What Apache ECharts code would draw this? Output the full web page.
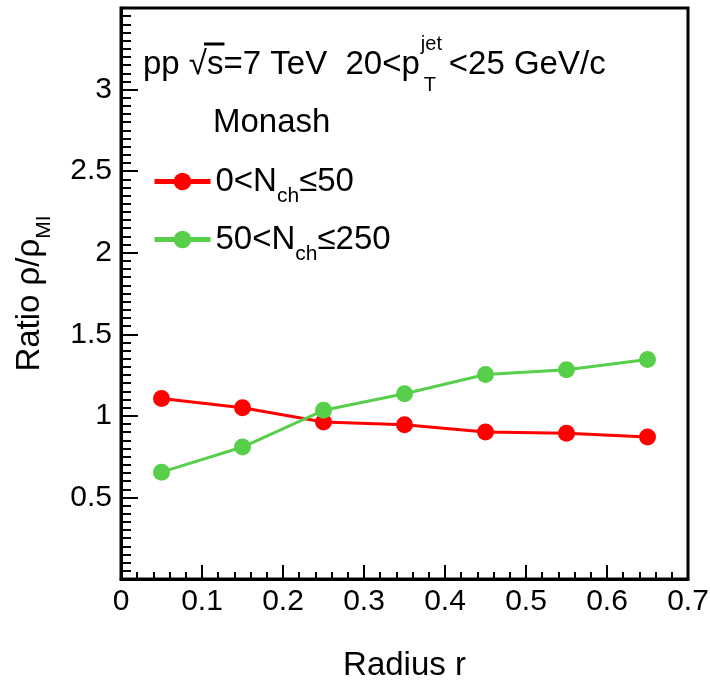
<!DOCTYPE html>
<html>
<head>
<meta charset="utf-8">
<script src="https://cdn.jsdelivr.net/npm/echarts@6/dist/echarts.min.js"></script>
<style>
  html, body { margin: 0; padding: 0; background: #fff; }
  #chart { width: 710px; height: 681px; }
</style>
</head>
<body>
<div id="chart"></div>
<script>
// 数据
const radius = [0.05, 0.15, 0.25, 0.35, 0.45, 0.55, 0.65]
const lowMult = [1.106, 1.05, 0.962, 0.946, 0.901, 0.894, 0.87] // 0<Nch≤50
const highMult = [0.655, 0.809, 1.034, 1.136, 1.253, 1.283, 1.345] // 50<Nch≤250
const seriesNames = ['0<N{sub|ch}≤50', '50<N{sub|ch}≤250']
const seriesColors = ['#ff0000', '#57cf4b']

const FONT = 'Liberation Sans, Arial, Helvetica, sans-serif'
const FS = 33 // 标题/注释字号
const TICK_FS = 30 // 刻度字号

// 测量文字宽度
const measureCtx = document.createElement('canvas').getContext('2d')
function textWidth(str, size) {
  measureCtx.font = size + 'px ' + FONT
  return measureCtx.measureText(str).width
}

const chart = echarts.init(document.getElementById('chart'))

function pairs(ys) {
  return radius.map((x, i) => [x, ys[i]])
}

function makeSeries(name, ys, color) {
  return {
    name: name,
    type: 'line',
    data: pairs(ys),
    symbol: 'circle',
    symbolSize: 17,
    color: color,
    lineStyle: { color: color, width: 3 },
    itemStyle: { color: color },
    animation: false
  }
}

// 标注文字
const line1 = 'pp √s=7 TeV  20<p'
const x0 = 143
const w1 = textWidth(line1, FS)
const sqrtEnd = x0 + textWidth('pp √', FS)
const sEnd = x0 + textWidth('pp √s', FS)
const graphics = [
  { type: 'text', left: x0, top: 48, style: { text: line1, font: FS + 'px ' + FONT, fill: '#000' } },
  { type: 'line', shape: { x1: sqrtEnd - 3, y1: 44, x2: sEnd + 1, y2: 44 }, style: { stroke: '#000', lineWidth: 3 } },
  { type: 'text', left: x0 + w1 + 1, top: 34, style: { text: 'jet', font: '20px ' + FONT, fill: '#000' } },
  { type: 'text', left: x0 + w1 + 4, top: 75, style: { text: 'T', font: '20px ' + FONT, fill: '#000' } },
  { type: 'text', left: x0 + w1 + 29, top: 48, style: { text: '<25 GeV/c', font: FS + 'px ' + FONT, fill: '#000' } },
  { type: 'text', left: 213, top: 106, style: { text: 'Monash', font: FS + 'px ' + FONT, fill: '#000' } }
]

const subRich = {
  sub: { fontSize: 21, fontFamily: FONT, color: '#000', verticalAlign: 'bottom', lineHeight: 21 }
}

const option = {
  backgroundColor: '#fff',
  animation: false,
  textStyle: { fontFamily: FONT, color: '#000' },
  grid: {
    left: 121,
    right: 22,
    top: 8,
    bottom: 102,
    outerBoundsMode: 'none',
    containLabel: false,
    show: true,
    borderColor: '#000',
    borderWidth: 3,
    backgroundColor: 'transparent'
  },
  legend: {
    orient: 'vertical',
    left: 147,
    top: 151,
    itemWidth: 56,
    itemHeight: 22,
    itemGap: 7,
    data: seriesNames,
    lineStyle: { width: 5 },
    textStyle: {
      fontSize: FS,
      fontFamily: FONT,
      color: '#000',
      lineHeight: 51,
      rich: subRich
    }
  },
  xAxis: {
    type: 'value',
    min: 0,
    max: 0.7,
    interval: 0.1,
    name: 'Radius r',
    nameLocation: 'middle',
    nameGap: 70,
    nameTextStyle: { fontSize: FS, fontFamily: FONT, color: '#000' },
    axisLine: { show: true, lineStyle: { color: '#000', width: 3 } },
    axisTick: { show: true, inside: true, length: 14, lineStyle: { color: '#000', width: 2 } },
    minorTick: { show: true, splitNumber: 5, length: 7, lineStyle: { color: '#000', width: 2 } },
    splitLine: { show: false },
    axisLabel: {
      fontSize: TICK_FS,
      fontFamily: FONT,
      color: '#000',
      margin: 8,
      formatter: v => String(Math.round(v * 10) / 10)
    }
  },
  yAxis: {
    type: 'value',
    min: 0,
    max: 3.5,
    interval: 0.5,
    name: 'Ratio ρ/ρ{sub|MI}',
    nameLocation: 'middle',
    nameRotate: 90,
    nameGap: 66,
    nameTextStyle: { fontSize: FS, fontFamily: FONT, color: '#000', lineHeight: 51, rich: subRich },
    axisLine: { show: true, lineStyle: { color: '#000', width: 3 } },
    axisTick: { show: true, inside: true, length: 17, lineStyle: { color: '#000', width: 2 } },
    minorTick: { show: true, splitNumber: 10, length: 10, lineStyle: { color: '#000', width: 2 } },
    splitLine: { show: false },
    axisLabel: {
      fontSize: TICK_FS,
      fontFamily: FONT,
      color: '#000',
      margin: 9,
      formatter: v => (v === 0 || v === 3.5 ? '' : String(v))
    }
  },
  graphic: graphics,
  series: [
    makeSeries(seriesNames[0], lowMult, seriesColors[0]),
    makeSeries(seriesNames[1], highMult, seriesColors[1])
  ]
}

chart.setOption(option)
</script>
</body>
</html>
